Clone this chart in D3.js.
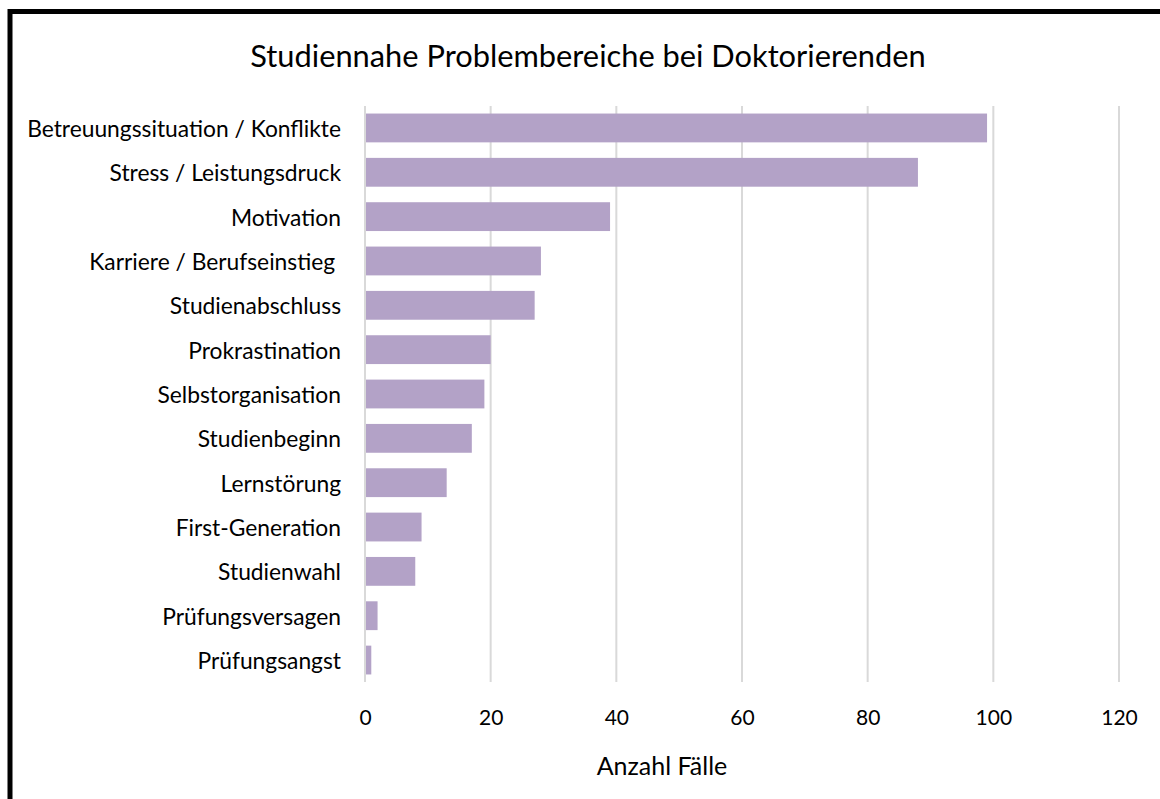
<!DOCTYPE html>
<meta charset="utf-8">
<script src="https://d3js.org/d3.v7.min.js"></script>
<style>
  body { margin: 0; background: #fff; }
  text { font-family: Lato, "Noto Sans", sans-serif; fill: #000; }
</style>
<div id="chart"></div>
<script>
// data
var categories = ["Betreuungssituation / Konflikte", "Stress / Leistungsdruck", "Motivation",
  "Karriere / Berufseinstieg ", "Studienabschluss", "Prokrastination", "Selbstorganisation",
  "Studienbeginn", "Lernstörung", "First-Generation", "Studienwahl", "Prüfungsversagen", "Prüfungsangst"];
var values = [99, 88, 39, 28, 27, 20, 19, 17, 13, 9, 8, 2, 1];
var xTicks = [0, 20, 40, 60, 80, 100, 120];

var W = 1160, H = 799;
var margin = {top: 106, right: 41, bottom: 117, left: 365};

var svg = d3.select("#chart").append("svg")
  .attr("width", W).attr("height", H);

// frame
svg.append("rect")
  .attr("x", 10).attr("y", 11.5)
  .attr("width", W + 20).attr("height", H + 20)
  .attr("fill", "#fff").attr("stroke", "#000").attr("stroke-width", 5);

var x = d3.scaleLinear().domain([0, 120]).range([margin.left, W - margin.right]);
var y = d3.scaleBand().domain(categories)
  .range([margin.top, H - margin.bottom])
  .paddingInner(0.35).paddingOuter(0.17);

// gridlines
svg.append("g").selectAll("line").data(xTicks).join("line")
  .attr("x1", d => x(d)).attr("x2", d => x(d))
  .attr("y1", margin.top).attr("y2", H - margin.bottom)
  .attr("stroke", "#d9d9d9").attr("stroke-width", 2);

// bars
svg.append("g").selectAll("rect").data(values).join("rect")
  .attr("x", x(0) + 1)
  .attr("y", (d, i) => y(categories[i]))
  .attr("width", d => x(d) - x(0) - 1)
  .attr("height", y.bandwidth())
  .attr("fill", "#b3a2c7");

// category labels
svg.append("g").selectAll("text").data(categories).join("text")
  .attr("x", x(0) - 24)
  .attr("y", d => y(d) + y.bandwidth() / 2)
  .attr("text-anchor", "end")
  .attr("dominant-baseline", "central")
  .style("white-space", "pre")
  .style("font-size", "22.8px")
  .text(d => d);

// tick labels
var xAxis = d3.axisBottom(x).tickValues(xTicks).tickSize(0).tickPadding(0);
var gx = svg.append("g")
  .attr("transform", "translate(0," + (H - margin.bottom) + ")")
  .call(xAxis);
gx.select(".domain").remove();
gx.selectAll("text")
  .attr("y", 36)
  .attr("dy", "0.35em")
  .style("font-size", "21px")
  .style("font-family", "Lato, sans-serif")
  .attr("fill", "#000");

// titles
svg.append("text")
  .attr("x", 588).attr("y", 55)
  .attr("text-anchor", "middle").attr("dominant-baseline", "central")
  .style("font-size", "30.8px")
  .text("Studiennahe Problembereiche bei Doktorierenden");

svg.append("text")
  .attr("x", 662).attr("y", 765)
  .attr("text-anchor", "middle").attr("dominant-baseline", "central")
  .style("font-size", "25px")
  .text("Anzahl Fälle");
</script>
